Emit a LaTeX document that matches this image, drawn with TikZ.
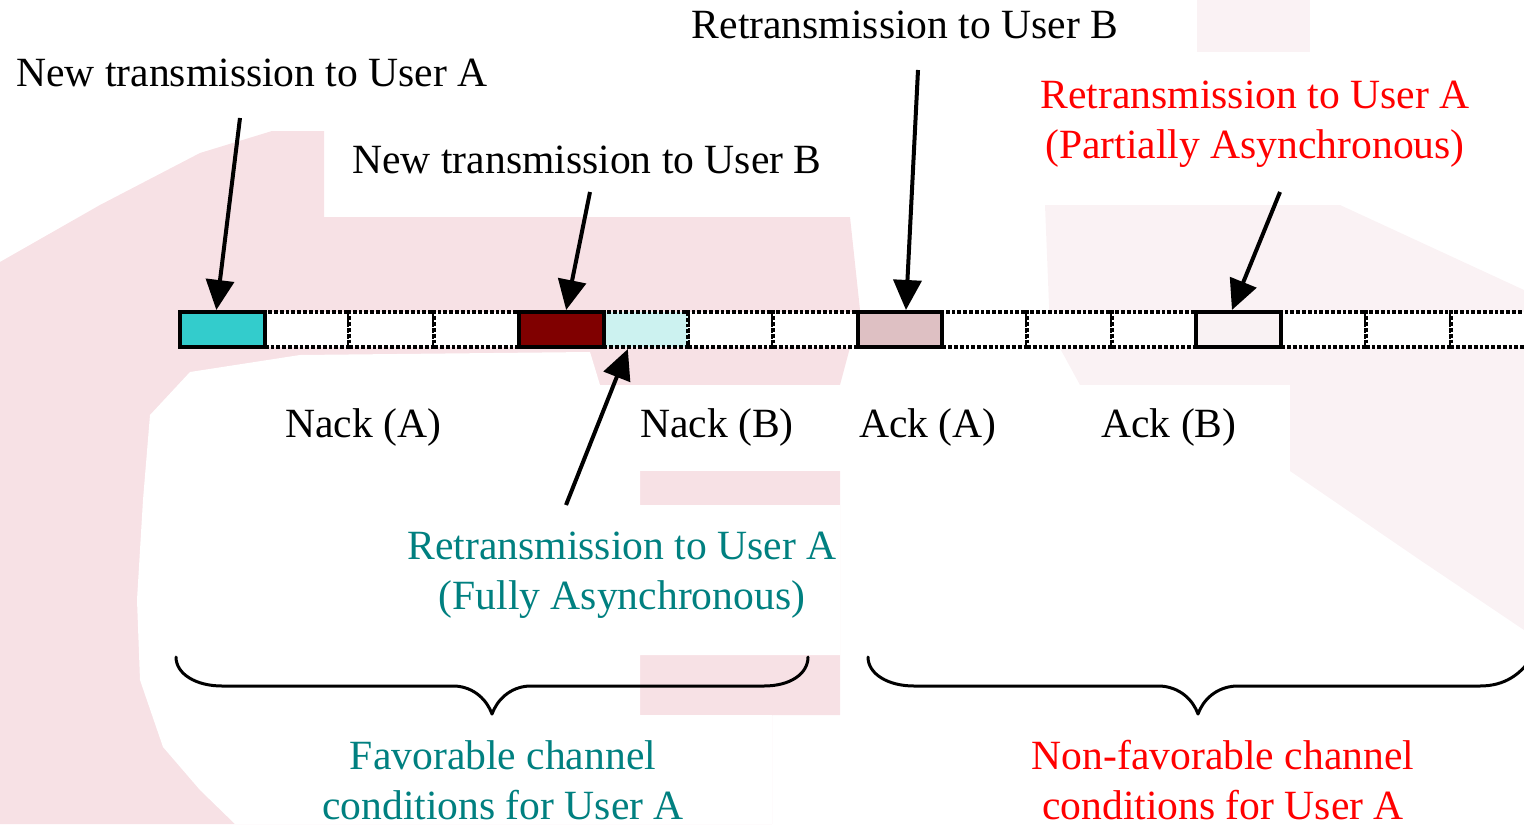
\documentclass[tikz,border=0pt]{standalone}
\usepackage{fontspec}
\setmainfont{Liberation Serif}
\usetikzlibrary{arrows.meta,calc}
\definecolor{bgpink}{RGB}{247,225,229}
\definecolor{bgfaint}{RGB}{250,242,244}
\definecolor{tealtxt}{RGB}{0,128,128}
\definecolor{cellA}{RGB}{51,204,204}
\definecolor{cellB}{RGB}{128,0,0}
\definecolor{cellAlight}{RGB}{204,242,240}
\definecolor{cellBlight}{RGB}{222,192,195}
\definecolor{cellpale}{RGB}{249,242,243}
\begin{document}
\begin{tikzpicture}[x=0.5pt,y=-0.5pt,
  lbl/.style={font=\fontsize{20.8}{25}\selectfont, inner sep=0pt, align=center},
  cellbox/.style={minimum width=42.35pt, minimum height=17.5pt, inner sep=0pt, draw=black, fill=white, line width=2pt, dash pattern=on 1.9pt off 1pt},
  solidcell/.style={minimum width=42.35pt, minimum height=17.5pt, inner sep=0pt, draw=black, line width=2pt},
  arr/.style={line width=2pt, -{Triangle[length=15pt,width=14pt]}},
  brace/.style={line width=1.5pt, line join=round, line cap=round},
]
\useasboundingbox (0,0) rectangle (1524,824);
% background watermark
\fill[bgfaint] (1197,0) rectangle (1310,52);
\fill[bgfaint] (1045,205) -- (1340,205) -- (1524,290) -- (1524,630) -- (1420,560) -- (1290,471) -- (1290,385) -- (1080,385) -- (1050,330) -- cycle;
\fill[bgpink] (0,262) -- (100,205) -- (200,153) -- (272,131) -- (324,131) -- (324,217) -- (850,217) -- (860,310) -- (840,385) -- (840,715) -- (772,715) -- (772,824) -- (0,824) -- cycle;
\fill[white] (150,415) -- (190,372) -- (300,355) -- (590,352) -- (600,385) -- (640,385) -- (640,505) -- (840,505) -- (840,655) -- (640,655) -- (640,715) -- (235,715) -- (235,824) -- (200,790) -- (163,747) -- (140,680) -- (137,600) -- (143,500) -- cycle;
\fill[white] (620,385) rectangle (1290,471);
\fill[white] (235,715) rectangle (772,824);

% cells
\foreach \i in {1,2,3,6,7,9,10,11,13,14,15}
  \node[cellbox] (c\i) at ({180+84.7*(\i+0.5)},329.5) {};
\node[cellbox, fill=cellAlight] (c5) at ({180+84.7*5.5},329.5) {};
\node[solidcell, fill=cellA] (c0) at ({180+84.7*0.5},329.5) {};
\node[solidcell, fill=cellB] (c4) at ({180+84.7*4.5},329.5) {};
\node[solidcell, fill=cellBlight] (c8) at ({180+84.7*8.5},329.5) {};
\node[solidcell, fill=cellpale] (c12) at ({180+84.7*12.5},329.5) {};

% labels
\node[lbl] (tA) at (252,73) {New transmission to User A};
\node[lbl] (tRB) at (905,25) {Retransmission to User B};
\node[lbl] (tB) at (587,160) {New transmission to User B};
\node[lbl, text=red] (tRA) at (1255,124) {Retransmission to User A\\(Partially Asynchronous)};
\node[lbl] (nA) at (363,427) {Nack (A)};
\node[lbl] (nB) at (717,427) {Nack (B)};
\node[lbl] (aA) at (928,427) {Ack (A)};
\node[lbl] (aB) at (1169,427) {Ack (B)};
\node[lbl, text=tealtxt] (tFA) at (622,575) {Retransmission to User A\\(Fully Asynchronous)};
\node[lbl, text=tealtxt] (fav) at (503,780) {Favorable channel\\conditions for User A};
\node[lbl, text=red] (nfav) at (1223,780) {Non-favorable channel\\conditions for User A};

% arrows
\coordinate (s1) at (240,118);
\coordinate (s2) at (590,192);
\coordinate (s3) at (918,70);
\coordinate (s4) at (1280,192);
\coordinate (s5) at (566,505);
\draw[arr] (s1) -- ([xshift=-3pt]c0.north);
\draw[arr] (s2) -- ([xshift=2.5pt]c4.north);
\draw[arr] (s3) -- ([xshift=3pt]c8.north);
\draw[arr] (s4) -- ([xshift=-3.4pt]c12.north);
\draw[arr] (s5) -- ([xshift=-9pt]c5.south);

% braces
\draw[brace] (176,657) .. controls (176,674) and (196,686) .. (222,686) -- (455,686)
  .. controls (474,687) and (487,700) .. (492,714)
  .. controls (497,700) and (510,687) .. (529,686) -- (764,686)
  .. controls (790,686) and (808,674) .. (808,657);
\draw[brace] (868,657) .. controls (868,674) and (888,686) .. (914,686) -- (1160,686)
  .. controls (1180,687) and (1193,700) .. (1198,714)
  .. controls (1203,700) and (1216,687) .. (1236,686) -- (1480,686)
  .. controls (1505,686) and (1520,674) .. (1530,660);
\end{tikzpicture}
\end{document}
